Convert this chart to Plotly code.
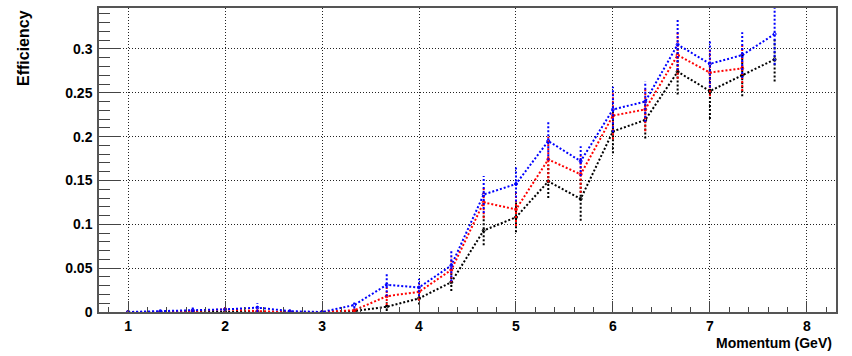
import plotly.graph_objects as go

# Bin centres (GeV)
momentum = [1.0, 1.333, 1.667, 2.0, 2.333, 2.667, 3.0, 3.333, 3.667, 4.0, 4.333,
            4.667, 5.0, 5.333, 5.667, 6.0, 6.333, 6.667, 7.0, 7.333, 7.667]

eff_black = [0, 0, 0, 0, 0, 0, 0, 0.001, 0.006, 0.0155, 0.034,
             0.093, 0.108, 0.149, 0.129, 0.206, 0.219, 0.274, 0.252, 0.270, 0.288]
err_black = [0, 0, 0, 0, 0, 0, 0, 0.001, 0.005, 0.007, 0.010,
             0.017, 0.017, 0.019, 0.025, 0.025, 0.021, 0.026, 0.032, 0.024, 0.025]

eff_red = [0, 0, 0.001, 0.003, 0.001, 0, 0, 0.002, 0.018, 0.023, 0.048,
           0.125, 0.117, 0.174, 0.157, 0.224, 0.231, 0.293, 0.273, 0.278]
err_red = [0, 0, 0.001, 0.004, 0.001, 0, 0, 0.002, 0.010, 0.010, 0.014,
           0.018, 0.019, 0.026, 0.021, 0.027, 0.025, 0.027, 0.027, 0.026]

eff_blue = [0, 0.001, 0.002, 0.003, 0.005, 0.001, 0.0, 0.008, 0.031, 0.028, 0.053,
            0.134, 0.146, 0.195, 0.172, 0.231, 0.240, 0.305, 0.283, 0.293, 0.317]
err_blue = [0, 0.001, 0.003, 0.002, 0.005, 0.002, 0, 0.004, 0.013, 0.010, 0.018,
            0.021, 0.020, 0.022, 0.017, 0.026, 0.023, 0.029, 0.027, 0.026, 0.035]

series = [
    ("black", "#000000", eff_black, err_black),
    ("red", "#ff0000", eff_red, err_red),
    ("blue", "#0000ff", eff_blue, err_blue),
]

FONT = "Liberation Sans"
fig = go.Figure()

for name, color, vals, errs in series:
    xs = momentum[:len(vals)]
    # error bars as dotted vertical segments
    ex, ey = [], []
    for x, y, e in zip(xs, vals, errs):
        if e > 0:
            ex += [x, x, None]
            ey += [y - e, y + e, None]
    fig.add_trace(go.Scatter(x=ex, y=ey, mode="lines",
                             line=dict(color=color, width=2, dash="2px,2px"),
                             hoverinfo="skip", showlegend=False, cliponaxis=True))
    fig.add_trace(go.Scatter(x=xs, y=vals, mode="lines+markers", name=name,
                             line=dict(color=color, width=2, dash="2px,2px"),
                             marker=dict(symbol="circle-open", size=3, color=color,
                                         line=dict(width=1, color=color)),
                             showlegend=False))

fig.update_layout(
    width=852, height=356,
    margin=dict(l=99, r=16, t=6, b=44),
    paper_bgcolor="white", plot_bgcolor="white",
    showlegend=False,
    font=dict(family=FONT, color="black"),
)

fig.update_xaxes(
    range=[0.7, 8.3], tickmode="linear", tick0=1, dtick=1,
    ticks="inside", ticklen=11, tickwidth=1, tickcolor="#444",
    minor=dict(ticks="inside", ticklen=5, dtick=0.2, tick0=0, tickcolor="#444",
               showgrid=False),
    showgrid=True, gridcolor="#222", griddash="1px,2px", gridwidth=1,
    zeroline=False, showline=True, mirror=True, linecolor="#555", linewidth=1.5,
    tickfont=dict(family=FONT, size=14, color="black", weight="bold"),
)
fig.update_yaxes(
    range=[0, 0.3467], tickmode="linear", tick0=0, dtick=0.05,
    ticks="inside", ticklen=22, tickwidth=1, tickcolor="#444",
    minor=dict(ticks="inside", ticklen=11, dtick=0.01, tick0=0, tickcolor="#444",
               showgrid=False),
    showgrid=True, gridcolor="#222", griddash="1px,2px", gridwidth=1,
    zeroline=False, showline=True, mirror=True, linecolor="#555", linewidth=1.5,
    tickfont=dict(family=FONT, size=14, color="black", weight="bold"),
    ticklabelstandoff=2,
)

fig.add_annotation(text="Efficiency", xref="paper", yref="paper",
                   x=(23 - 99) / 737, y=1.0, xanchor="center", yanchor="top",
                   textangle=-90, showarrow=False,
                   font=dict(family=FONT, size=16, color="black", weight="bold"))
fig.add_annotation(text="Momentum (GeV)", xref="paper", yref="paper",
                   x=(834 - 99) / 737, y=(312 - 343) / 306, xanchor="right",
                   yanchor="middle", showarrow=False,
                   font=dict(family=FONT, size=14, color="black", weight="bold"))

fig.write_html(
    "out.html",
    config={"displayModeBar": False},
    post_script="document.body.style.margin='0';document.body.style.overflow='hidden';",
)
